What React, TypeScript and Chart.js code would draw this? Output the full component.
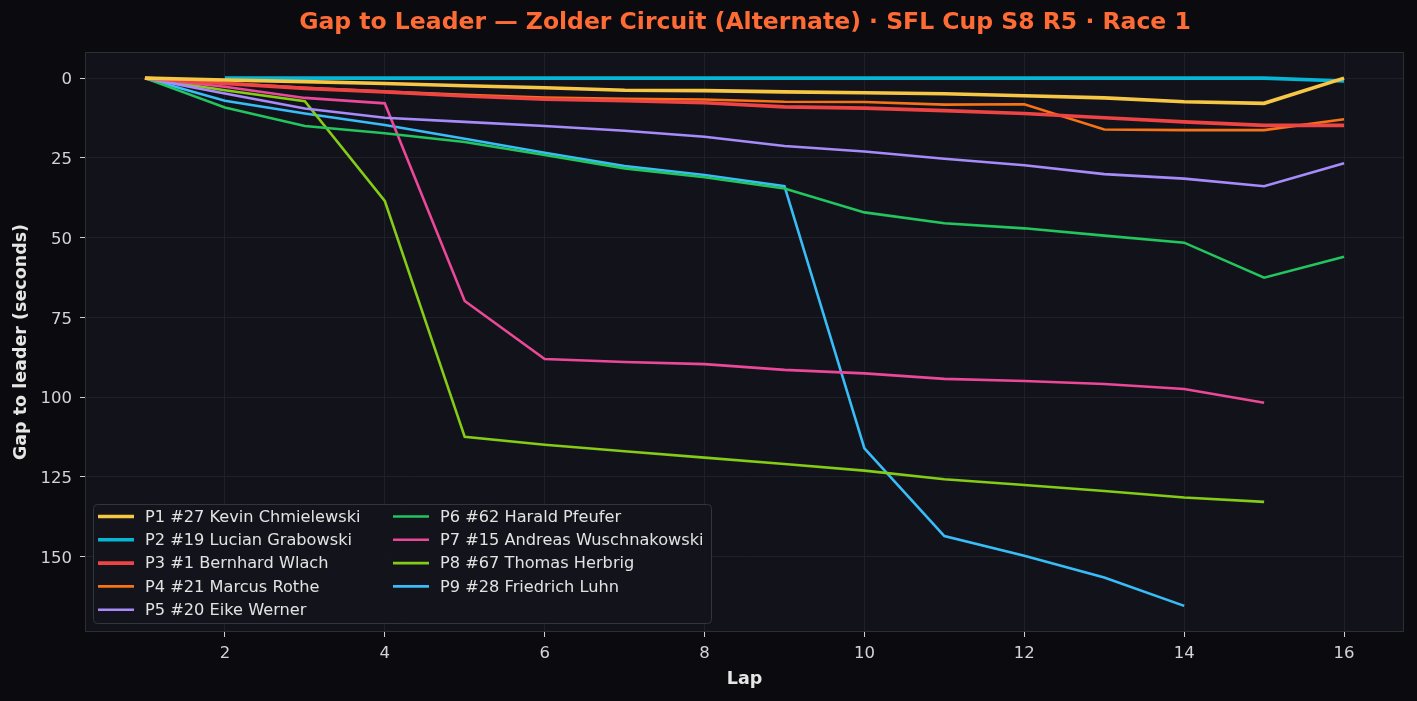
import { useEffect, useRef } from 'react'
import { Chart, registerables } from 'chart.js'
Chart.register(...registerables)

const laps = [1, 2, 3, 4, 5, 6, 7, 8, 9, 10, 11, 12, 13, 14, 15, 16]
const p1 = [0, 0.6, 1.1, 1.7, 2.4, 3.0, 3.8, 3.9, 4.3, 4.6, 4.9, 5.5, 6.2, 7.4, 7.9, 0]
const p2 = [null, 0, 0, 0, 0, 0, 0, 0, 0, 0, 0, 0, 0, 0, 0, 0.9]
const p3 = [0, 1.7, 3.2, 4.3, 5.6, 6.6, 7.1, 7.7, 9.0, 9.4, 10.2, 11.1, 12.4, 13.7, 14.8, 14.8]
const p4 = [0, 1.5, 3.0, 4.2, 5.2, 6.1, 6.5, 6.7, 7.4, 7.5, 8.3, 8.2, 16.1, 16.3, 16.3, 12.9]
const p5 = [0, 4.8, 9.5, 12.4, 13.7, 15.0, 16.5, 18.4, 21.3, 23.0, 25.3, 27.3, 30.1, 31.5, 33.9, 26.7]
const p6 = [0, 9.2, 15.0, 17.3, 20.0, 24.1, 28.3, 31.1, 34.6, 42.1, 45.5, 47.1, 49.4, 51.6, 62.6, 56.0]
const p7 = [0, 2.7, 6.2, 7.9, 69.9, 88.1, 89.0, 89.7, 91.5, 92.6, 94.3, 95.0, 95.9, 97.5, 101.8, null]
const p8 = [0, 3.8, 7.2, 38.5, 112.5, 115.0, 117.0, 119.0, 121.0, 123.1, 125.8, 127.6, 129.5, 131.5, 132.9, null]
const p9 = [0, 7.1, 11.1, 14.7, 19.0, 23.4, 27.6, 30.4, 33.9, 116.1, 143.6, 149.8, 156.6, 165.5, null, null]

const names = [
  'P1 #27 Kevin Chmielewski',
  'P2 #19 Lucian Grabowski',
  'P3 #1 Bernhard Wlach',
  'P4 #21 Marcus Rothe',
  'P5 #20 Eike Werner',
  'P6 #62 Harald Pfeufer',
  'P7 #15 Andreas Wuschnakowski',
  'P8 #67 Thomas Herbrig',
  'P9 #28 Friedrich Luhn',
]
const series = [p1, p2, p3, p4, p5, p6, p7, p8, p9]
const colors = ['#f6c744', '#06b6d4', '#ef4444', '#f97316', '#a78bfa', '#22c55e', '#ec4899', '#84cc16', '#38bdf8']
const widths = [3.6, 3.6, 3.6, 2.6, 2.6, 2.6, 2.6, 2.6, 2.6]
const xTicks = [2, 4, 6, 8, 10, 12, 14, 16]
const yTicks = [0, 25, 50, 75, 100, 125, 150]

const TITLE = 'Gap to Leader — Zolder Circuit (Alternate) · SFL Cup S8 R5 · Race 1'
const FONT = '"DejaVu Sans", sans-serif'

const chrome = {
  id: 'chrome',
  beforeDraw(chart: any) {
    const { ctx, chartArea: a, width, height } = chart
    ctx.save()
    ctx.fillStyle = '#0b0b0f'
    ctx.fillRect(0, 0, width, height)
    ctx.fillStyle = '#12131a'
    ctx.fillRect(a.left, a.top, a.right - a.left, a.bottom - a.top)
    ctx.restore()
  },
  afterDraw(chart: any) {
    const { ctx, chartArea: a } = chart
    ctx.save()
    // frame
    ctx.strokeStyle = '#2c2e36'
    ctx.lineWidth = 1
    ctx.strokeRect(a.left + 0.5, a.top + 0.5, a.right - a.left - 1, a.bottom - a.top - 1)

    // title
    ctx.fillStyle = '#ff6b35'
    ctx.font = `bold 23.5px ${FONT}`
    ctx.textAlign = 'center'
    ctx.textBaseline = 'middle'
    ctx.fillText(TITLE, 745, 23)

    // axis titles
    ctx.fillStyle = '#e6e6e6'
    ctx.font = `bold 17.5px ${FONT}`
    ctx.fillText('Lap', (a.left + a.right) / 2, 679)
    ctx.save()
    ctx.translate(21, (a.top + a.bottom) / 2)
    ctx.rotate(-Math.PI / 2)
    ctx.fillText('Gap to leader (seconds)', 0, 0)
    ctx.restore()

    // legend
    const bx = 93, by = 504, bw = 618, bh = 119
    ctx.beginPath()
    ctx.roundRect(bx + 0.5, by + 0.5, bw, bh, 4)
    ctx.fillStyle = 'rgba(19,20,27,0.92)'
    ctx.fill()
    ctx.strokeStyle = '#33353d'
    ctx.lineWidth = 1
    ctx.stroke()
    ctx.font = `16.2px ${FONT}`
    ctx.textAlign = 'left'
    ctx.textBaseline = 'middle'
    names.forEach((n, i) => {
      const col = i < 5 ? 0 : 1
      const row = i < 5 ? i : i - 5
      const hx = col === 0 ? 98 : 393
      const y = 516.5 + row * 23.3
      ctx.strokeStyle = colors[i]
      ctx.lineWidth = widths[i]
      ctx.beginPath()
      ctx.moveTo(hx, y)
      ctx.lineTo(hx + 36, y)
      ctx.stroke()
      ctx.fillStyle = '#e2e2e2'
      ctx.fillText(n, hx + 47, y + 1)
    })
    ctx.restore()
  },
}

export default function App() {
  const ref = useRef<HTMLCanvasElement | null>(null)
  useEffect(() => {
    document.body.style.margin = '0'
    document.body.style.background = '#0b0b0f'
    if (!ref.current) return
    const chart = new Chart(ref.current, {
      type: 'line',
      data: {
        datasets: series.map((s, i) => ({
          label: names[i],
          data: laps.map((l, j) => ({ x: l, y: s[j] })),
          borderColor: colors[i],
          backgroundColor: colors[i],
          borderWidth: widths[i],
          pointRadius: 0,
          tension: 0,
          spanGaps: false,
        })),
      },
      options: {
        animation: false,
        responsive: true,
        maintainAspectRatio: false,
        layout: { padding: { top: 52, right: 13, left: 0, bottom: 0 } },
        plugins: { legend: { display: false }, title: { display: false }, tooltip: { enabled: false } },
        scales: {
          x: {
            type: 'linear',
            min: 0.25,
            max: 16.75,
            afterBuildTicks: (s: any) => { s.ticks = xTicks.map(v => ({ value: v })) },
            afterFit: (s: any) => { s.height = 69 },
            grid: { color: '#1f2129', tickColor: '#d0d0d0', tickLength: 5, lineWidth: 1 },
            border: { display: false },
            ticks: { color: '#d4d4d4', font: { family: FONT, size: 16.5 }, padding: 7, maxRotation: 0 },
          },
          y: {
            type: 'linear',
            reverse: true,
            min: -8.2,
            max: 173.7,
            afterBuildTicks: (s: any) => { s.ticks = yTicks.map(v => ({ value: v })) },
            afterFit: (s: any) => { s.width = 85 },
            grid: { color: '#1f2129', tickColor: '#d0d0d0', tickLength: 5, lineWidth: 1 },
            border: { display: false },
            ticks: { color: '#d4d4d4', font: { family: FONT, size: 16.5 }, padding: 8, labelOffset: 2 },
          },
        },
      },
      plugins: [chrome],
    })
    return () => chart.destroy()
  }, [])
  return (
    <div style={{ width: 1417, height: 701, position: 'relative' }}>
      <canvas ref={ref} />
    </div>
  )
}
